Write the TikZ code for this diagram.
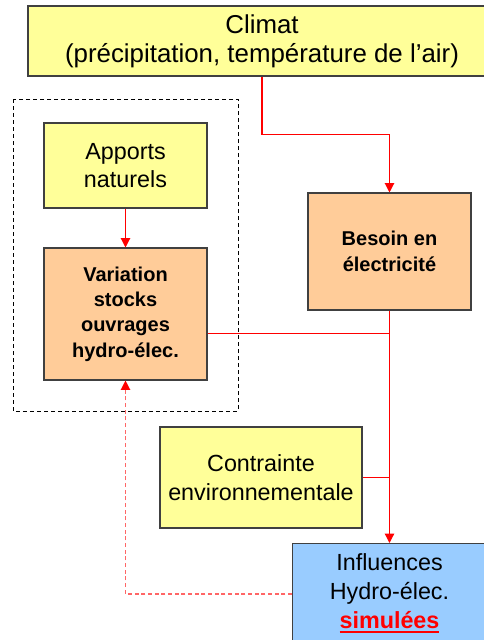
\documentclass[tikz,border=0pt]{standalone}
\usepackage{fontspec}
\setmainfont{Liberation Sans}
\usetikzlibrary{arrows.meta, positioning, calc}
\definecolor{box_yellow}{HTML}{FFFF99}
\definecolor{box_orange}{HTML}{FFCC99}
\definecolor{box_blue}{HTML}{99CCFF}
\definecolor{link_red}{HTML}{FF0000}
\definecolor{link_pink}{HTML}{FF6666}
\newcommand{\redunder}[1]{\setbox0\hbox{#1}\rlap{\rule[-3.8pt]{\wd0}{1.9pt}}\box0}
\tikzset{
  title_font/.style = {font=\fontsize{19.4}{21.5}\selectfont},
  plain_font/.style = {font=\fontsize{17.5}{21.5}\selectfont},
  bold_font/.style = {font=\fontsize{15}{19}\selectfont\bfseries},
  box/.style = {draw=black!75, line width=0.8pt, align=center, inner sep=0},
  yellow_box/.style = {box, plain_font, fill=box_yellow},
  orange_box/.style = {box, bold_font, fill=box_orange},
  blue_box/.style = {box, plain_font, fill=box_blue}
}
\tikzset{
  link/.style = {draw=link_red, line width=0.9pt},
  link_arrow/.style = {link, -{Triangle[width=7pt, length=7pt]}},
  feedback/.style = {draw=link_pink, line width=0.9pt, dash pattern=on 3pt off 2pt,
    -{Triangle[width=7pt, length=7pt, color=link_red, fill=link_red]}},
  frame/.style = {draw=black, line width=0.75pt, dash pattern=on 3pt off 2.25pt}
}
\begin{document}
\begin{tikzpicture}[x=0.75pt, y=-0.75pt]
        \useasboundingbox (0,0) rectangle (484,640);

        % Boxes
        \node[yellow_box, title_font, minimum width=351pt, minimum height=52.5pt] at (262,41) (climat) {
            Climat\\(précipitation, température de l’air)};
        \node[yellow_box, minimum width=122.25pt, minimum height=63.75pt] at (125.5,165.5) (apports) {
            Apports\\naturels};
        \node[orange_box, minimum width=122.25pt, minimum height=99pt] at (125.5,314) (variation) {
            Variation\\stocks\\ouvrages\\hydro-élec.};
        \node[orange_box, minimum width=122.25pt, minimum height=87.75pt] at (389.5,251.5) (besoin) {
            Besoin en\\électricité};
        \node[yellow_box, minimum width=151.5pt, minimum height=75.75pt] at (261,477.5) (contrainte) {
            Contrainte\\environnementale};
        \node[blue_box, minimum width=145.5pt, minimum height=75pt, anchor=north] at (389.5,543) (influences) {
            Influences\\Hydro-élec.\\\textcolor{link_red}{\bfseries\redunder{simulées}}};

        % Dashed frame round the hydro part
        \draw[frame] (13,99) rectangle (238,411);

        % Arrows and lines
        \coordinate (climat_turn) at ($(climat.south)+(0,58)$);
        \coordinate (variation_out) at ($(variation.east)+(0,19.5)$);
        \draw[link_arrow] (climat.south) -- (climat_turn) -| (besoin.north);
        \draw[link_arrow] (apports.south) -- (variation.north);
        \draw[link_arrow] (besoin.south) -- (influences.north);
        \draw[link] (variation_out) -- (variation_out -| besoin.south);
        \draw[link] (contrainte.east) -- (contrainte.east -| besoin.south);
        \draw[feedback] ($(influences.north west)+(0,51)$) -| (variation.south);
\end{tikzpicture}
\end{document}
